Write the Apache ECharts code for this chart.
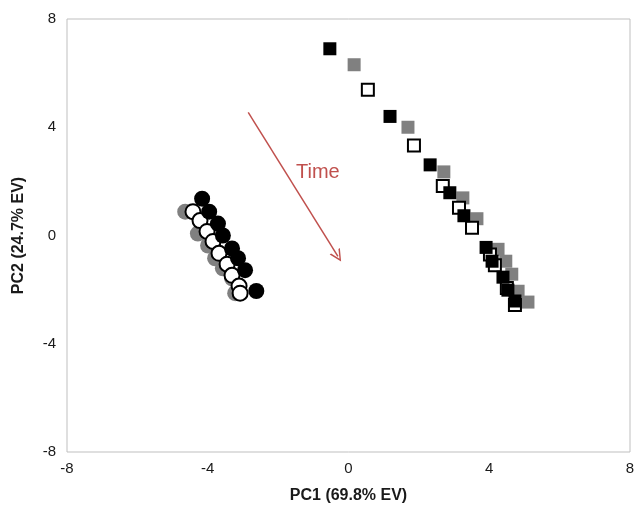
<!DOCTYPE html>
<html><head><meta charset="utf-8">
<script src="https://cdn.jsdelivr.net/npm/echarts@6/dist/echarts.min.js"></script>
<style>html,body{margin:0;padding:0;background:#fff}#c{width:640px;height:509px}</style>
</head><body><div id="c"></div>
<script>
const axisTicks = [-8, -4, 0, 4, 8];
const xTitle = 'PC1 (69.8% EV)';
const yTitle = 'PC2 (24.7% EV)';

const circlesGray = [[-4.64,0.88],[-4.28,0.07],[-3.99,-0.37],[-3.79,-0.84],[-3.57,-1.21],[-3.31,-1.58],[-3.22,-2.13]];
const circlesBlack = [[-4.16,1.36],[-3.96,0.88],[-3.71,0.44],[-3.57,0.00],[-3.31,-0.48],[-3.14,-0.84],[-2.94,-1.28],[-2.62,-2.05]];
const circlesOpen = [[-4.42,0.88],[-4.22,0.55],[-4.02,0.15],[-3.85,-0.22],[-3.68,-0.66],[-3.45,-1.06],[-3.31,-1.47],[-3.11,-1.87],[-3.08,-2.13]];

const squaresGray = [[0.16,6.31],[1.69,4.00],[2.71,2.35],[3.25,1.39],[3.65,0.62],[4.25,-0.51],[4.47,-0.95],[4.64,-1.43],[4.82,-2.06],[5.10,-2.46]];
const squaresBlack = [[-0.53,6.90],[1.18,4.40],[2.32,2.61],[2.88,1.58],[3.28,0.73],[3.91,-0.44],[4.08,-0.95],[4.39,-1.54],[4.53,-2.02],[4.73,-2.42]];
const squaresOpen = [[0.55,5.39],[1.86,3.33],[2.68,1.83],[3.14,1.03],[3.51,0.29],[4.02,-0.70],[4.16,-1.10],[4.50,-1.94],[4.73,-2.57]];

const arrowStart = [-2.85, 4.55];
const arrowEnd = [-0.30, -0.77];
const arrowText = 'Time';

const chart = echarts.init(document.getElementById('c'));
const font = 'Liberation Sans, Arial, sans-serif';
function sc(name, data, symbol, size, fill, border) {
  return {
    type: 'scatter', name, data, symbol, symbolSize: size,
    itemStyle: { color: fill, borderColor: border, borderWidth: fill === '#ffffff' ? 2 : 0, opacity: 1 },
    emphasis: { disabled: true }, silent: true, animation: false
  };
}
chart.setOption({
  animation: false,
  grid: { left: 67, right: 10, top: 19, bottom: 50, show: true, borderColor: '#bfbfbf', borderWidth: 1 },
  xAxis: {
    type: 'value', min: -8, max: 8, interval: 4,
    name: xTitle, nameLocation: 'middle', nameGap: 36,
    nameTextStyle: { fontFamily: font, fontWeight: 'bold', fontSize: 16, color: '#1a1a1a' },
    axisLine: { show: false }, axisTick: { show: false }, splitLine: { show: false },
    axisLabel: { fontFamily: font, fontSize: 15, color: '#1a1a1a', margin: 9 }
  },
  yAxis: {
    type: 'value', min: -8, max: 8, interval: 4,
    name: yTitle, nameLocation: 'middle', nameGap: 40, nameRotate: 90,
    nameTextStyle: { fontFamily: font, fontWeight: 'bold', fontSize: 16, color: '#1a1a1a' },
    axisLine: { show: false }, axisTick: { show: false }, splitLine: { show: false },
    axisLabel: { fontFamily: font, fontSize: 15, color: '#1a1a1a', margin: 11 }
  },
  series: [
    sc('cg', circlesGray, 'circle', 16, '#808080', '#808080'),
    sc('co', circlesOpen, 'circle', 15, '#ffffff', '#000000'),
    sc('cb', circlesBlack, 'circle', 16, '#000000', '#000000'),
    sc('sg', squaresGray, 'rect', 13, '#808080', '#808080'),
    sc('so', squaresOpen, 'rect', 12, '#ffffff', '#000000'),
    Object.assign(sc('sb', squaresBlack, 'rect', 13, '#000000', '#000000'), {
      markLine: {
        silent: true, animation: false,
        symbol: ['none', 'path://M0,10 L5,0 L10,10 L8.6,10 L5,2.6 L1.4,10 Z'], symbolSize: [12, 12],
        lineStyle: { color: '#c0504d', width: 1.5, type: 'solid' },
        label: { show: false },
        data: [[{ coord: arrowStart }, { coord: arrowEnd }]]
      }
    })
  ],
  graphic: [{
    type: 'text', left: 296, top: 162,
    style: { text: arrowText, fill: '#c0504d', font: '20px ' + font }
  }]
});
</script></body></html>
